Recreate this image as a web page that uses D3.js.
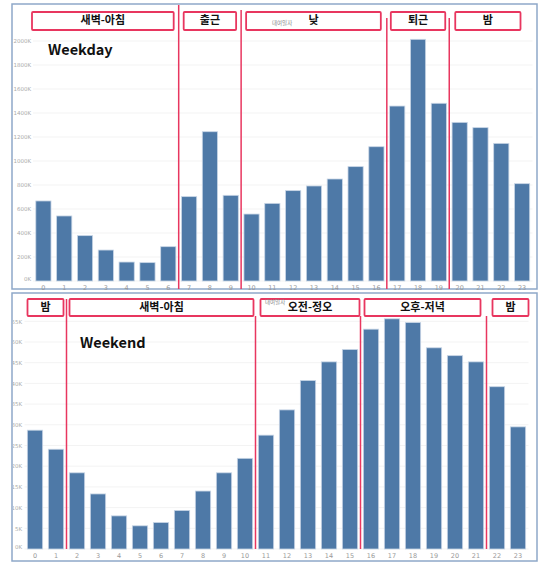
<!DOCTYPE html>
<html><head><meta charset="utf-8">
<script src="https://cdn.jsdelivr.net/npm/d3@7"></script>
<style>
html,body{margin:0;padding:0;background:#fff;}
svg{display:block;}
</style></head>
<body>
<svg id="c" width="538" height="562"></svg>
<script>
// ---- data ----
const hours = ["0","1","2","3","4","5","6","7","8","9","10","11","12","13","14","15","16","17","18","19","20","21","22","23"];
// weekday rentals (thousands)
const weekday = [667,542,378,258,158,153,286,703,1244,714,558,647,753,792,850,953,1119,1458,2014,1481,1322,1278,1147,811];
// weekend rentals (thousands)
const weekend = [28.7,24.1,18.4,13.3,8.0,5.6,6.4,9.3,14.0,18.4,21.9,27.5,33.6,40.7,45.2,48.2,53.1,55.6,54.7,48.6,46.7,45.2,39.2,29.5];
const weekdayTicks = [0,200,400,600,800,1000,1200,1400,1600,1800,2000];
const weekendTicks = [0,5,10,15,20,25,30,35,40,45,50,55];
const weekdayPeriods = [
  {name:"새벽-아침", from:0, to:6},
  {name:"출근", from:7, to:9},
  {name:"낮", from:10, to:16},
  {name:"퇴근", from:17, to:19},
  {name:"밤", from:20, to:23}
];
const weekendPeriods = [
  {name:"밤", from:0, to:1},
  {name:"새벽-아침", from:2, to:10},
  {name:"오전-정오", from:11, to:15},
  {name:"오후-저녁", from:16, to:21},
  {name:"밤", from:22, to:23}
];
const weekdayTitle = "Weekday";
const weekendTitle = "Weekend";
const fieldLabel = "대여일자";

// ---- styles ----
const BAR = "#4e79a7", BAR_STROKE = "#c9d6e6", RED = "#e8365f", FRAME = "#8ea8c9";
const KFONT = "'Noto Sans CJK KR','Noto Sans',sans-serif";

const svg = d3.select("#c");

function panel(cfg){
  const g = svg.append("g");
  // frame
  g.append("rect").attr("x",cfg.frame[0]).attr("y",cfg.frame[1])
    .attr("width",cfg.frame[2]-cfg.frame[0]).attr("height",cfg.frame[3]-cfg.frame[1])
    .attr("fill","none").attr("stroke",FRAME).attr("stroke-width",1.5);

  const x = d3.scaleBand().domain(hours).range(cfg.xr).paddingInner(0.27).paddingOuter(0.135);
  const y = d3.scaleLinear().domain([0, cfg.ymax]).range([cfg.y0, cfg.y0 - cfg.ypx]);
  const pos = h => cfg.xr[0] + (cfg.xr[1]-cfg.xr[0]) * h / hours.length;

  // gridlines
  g.append("g").selectAll("line").data(cfg.ticks).join("line")
    .attr("x1",cfg.xr[0]).attr("x2",cfg.xr[1])
    .attr("y1",d=>y(d)).attr("y2",d=>y(d))
    .attr("stroke","#f3f3f3").attr("stroke-width",1);

  // y axis (clipped at the frame's left edge)
  const clipId = "clip"+cfg.id;
  svg.append("clipPath").attr("id",clipId).append("rect")
    .attr("x",cfg.frame[0]+1).attr("y",cfg.frame[1]).attr("width",200).attr("height",cfg.frame[3]-cfg.frame[1]);
  const wrap = g.append("g").attr("clip-path","url(#"+clipId+")");
  const ya = wrap.append("g")
    .attr("transform",`translate(${cfg.yaxX},0)`)
    .call(d3.axisLeft(y).tickValues(cfg.ticks).tickSize(0).tickPadding(0).tickFormat(d=>d+"K"));
  ya.select(".domain").remove();
  ya.selectAll("text").attr("fill","#aaa").style("font-size","5.5px").style("font-family","'DejaVu Sans',sans-serif");
  ya.selectAll(".tick").filter(d=>d===0).select("text").attr("dy","-0.1em");

  // x axis
  const xa = g.append("g").attr("transform",`translate(0,${cfg.y0})`)
    .call(d3.axisBottom(x).tickSize(0).tickPadding(4));
  xa.select(".domain").remove();
  xa.selectAll("text").attr("fill","#999").style("font-size","6.5px").style("font-family","'DejaVu Sans',sans-serif");

  // bars
  g.append("g").selectAll("rect").data(cfg.values).join("rect")
    .attr("x",(d,i)=>x(hours[i])).attr("width",x.bandwidth())
    .attr("y",d=>y(d)).attr("height",d=>y(0)-y(d))
    .attr("fill",BAR).attr("stroke",BAR_STROKE).attr("stroke-width",0.8);

  // period separator lines
  cfg.periods.slice(1).forEach((p,i)=>{
    g.append("line").attr("x1",pos(p.from)).attr("x2",pos(p.from))
      .attr("y1",cfg.lineTop[i]).attr("y2",cfg.lineBottom)
      .attr("stroke",RED).attr("stroke-width",1.5);
  });

  // period boxes
  cfg.periods.forEach((p,i)=>{
    const x0 = pos(p.from) + cfg.boxInset[i][0];
    const x1 = pos(p.to+1) - cfg.boxInset[i][1];
    g.append("rect").attr("x",x0).attr("y",cfg.boxY).attr("width",x1-x0).attr("height",cfg.boxH)
      .attr("fill","#fff").attr("stroke",RED).attr("stroke-width",1.8).attr("rx",1);
    g.append("text").attr("x",(x0+x1)/2).attr("y",cfg.boxY+cfg.boxH/2+0.5)
      .attr("text-anchor","middle").attr("dominant-baseline","middle")
      .text(p.name).attr("fill","#111").style("font-size","11px").style("font-weight","700").style("font-family",KFONT);
  });

  // small field label (drawn over boxes as in the reference)
  g.append("text").attr("x",cfg.fieldPos[0]).attr("y",cfg.fieldPos[1])
    .text(fieldLabel).attr("fill","#888").style("font-size","5.5px").style("font-family",KFONT);

  // title
  g.append("text").attr("x",cfg.titlePos[0]).attr("y",cfg.titlePos[1]).text(cfg.title)
    .attr("fill","#111").style("font-size","14.5px").style("font-weight","700").style("font-family",KFONT);
}

panel({
  id:"top", frame:[12,4,537,289], xr:[33,532.5], y0:281, ypx:240, ymax:2000,
  ticks:weekdayTicks, values:weekday, yaxX:31, periods:weekdayPeriods,
  lineTop:[5,10,18,18], lineBottom:289,
  boxY:12, boxH:18, boxInset:[[-1,5],[5,5],[5,6],[4,4],[6,12]],
  title:weekdayTitle, titlePos:[48,55], fieldPos:[272,25]
});
panel({
  id:"bot", frame:[12,293,537,561], xr:[24.5,528.5], y0:549, ypx:227.7, ymax:55,
  ticks:weekendTicks, values:weekend, yaxX:22, periods:weekendPeriods,
  lineTop:[299,316,316,316], lineBottom:549,
  boxY:299, boxH:17, boxInset:[[3,3],[3,2],[5,1],[4,6],[6,0]],
  title:weekendTitle, titlePos:[80,348], fieldPos:[265,304]
});
</script>
</body></html>
